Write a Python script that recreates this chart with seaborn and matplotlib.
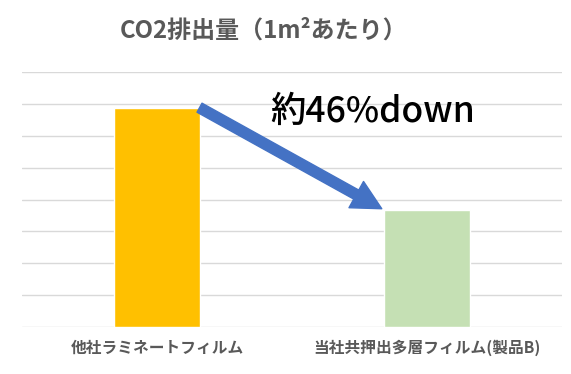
import matplotlib
matplotlib.use("Agg")
import matplotlib.pyplot as plt
import seaborn as sns
import pandas as pd

categories = ["他社ラミネートフィルム", "当社共押出多層フィルム(製品B)"]
values = [6.88, 3.66]
colors = ["#FFC000", "#C5E0B4"]
title = "CO2排出量（1m²あたり）"
note = "約46%down"

sns.set_theme(style="white")
plt.rcParams["font.family"] = ["Noto Sans CJK JP", "DejaVu Sans"]

df = pd.DataFrame({"cat": categories, "val": values})

fig = plt.figure(figsize=(5.71, 3.74), dpi=100)
ax = fig.add_axes([22/571, (374-327)/374, 540/571, (327-72)/374])

bw = 0.315
sns.barplot(data=df, x="cat", y="val", hue="cat", palette=colors, width=bw,
            legend=False, ax=ax, saturation=1, zorder=3)

ax.set_ylim(0, 8)
ax.set_xlim(-0.5, 1.5)
ax.set_yticks(range(0, 9))
ax.set_yticklabels([])
ax.grid(axis="y", color="#D9D9D9", linewidth=1, zorder=0)
ax.set_axisbelow(True)
for s in ax.spines.values():
    s.set_visible(False)
ax.tick_params(axis="both", length=0)
ax.set_xlabel("")
ax.set_ylabel("")
ax.set_xticks([0, 1])
ax.set_xticklabels(categories, fontsize=11.3, fontweight="bold", color="#595959")
ax.tick_params(axis="x", pad=9)

fig.text(0.462, 1 - 31/374, title, ha="center", va="center", fontsize=17.3,
         fontweight="bold", color="#595959")

ax.annotate("", xy=(1 - bw/2 - 0.01, values[1] + 0.05), xytext=(bw/2, values[0]),
            arrowprops=dict(arrowstyle="simple,head_length=1.75,head_width=1.8,tail_width=0.62",
                            mutation_scale=12, color="#4472C4", shrinkA=0, shrinkB=0),
            zorder=5)

ax.text(0.80, 6.76, note, ha="center", va="center", fontsize=25.5,
        fontweight="medium", color="black")

fig.savefig("out.png", dpi=100)
